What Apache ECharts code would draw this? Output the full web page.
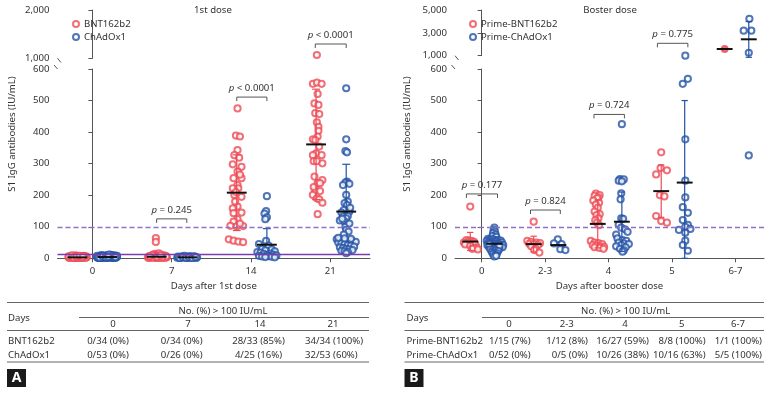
<!DOCTYPE html>
<html>
<head>
<meta charset="utf-8">
<script src="https://cdn.jsdelivr.net/npm/echarts@6/dist/echarts.min.js"></script>
<style>
  html, body { margin: 0; padding: 0; background: #fff; }
  #chart { width: 774px; height: 394px; }
</style>
</head>
<body>
<div id="chart"></div>
<script>
// categories
const A_DAYS = ['0', '7', '14', '21']
const B_DAYS = ['0', '2-3', '4', '5', '6-7']

// points: [category index + jitter, IU/mL]
const A_BNT = [
  // day 0
  [-0.30, 3], [-0.28, 6], [-0.26, 2], [-0.24, 8], [-0.22, 4], [-0.20, 1], [-0.18, 5], [-0.16, 3], [-0.14, 7], [-0.12, 2],
  [-0.10, 4], [-0.08, 6], [-0.07, 3], [-0.29, 1], [-0.25, 5], [-0.21, 9], [-0.17, 2], [-0.13, 5], [-0.09, 1], [-0.27, 4],
  [-0.23, 2], [-0.19, 7], [-0.15, 1], [-0.11, 8], [-0.30, 6], [-0.26, 9], [-0.22, 1], [-0.18, 3], [-0.14, 2], [-0.10, 7],
  [-0.24, 3], [-0.20, 6], [-0.16, 8], [-0.12, 5],
  // day 7
  [0.80, 64], [0.80, 52], [0.70, 3], [0.72, 6], [0.74, 2], [0.76, 9], [0.78, 4], [0.80, 1], [0.82, 12], [0.84, 3],
  [0.86, 7], [0.88, 2], [0.90, 5], [0.92, 8], [0.94, 3], [0.71, 1], [0.75, 5], [0.79, 14], [0.83, 2], [0.87, 6],
  [0.91, 1], [0.73, 4], [0.77, 2], [0.81, 8], [0.85, 1], [0.89, 10], [0.93, 6], [0.76, 11], [0.80, 4], [0.84, 16],
  [0.88, 3], [0.72, 7], [0.82, 5], [0.86, 9],
  // day 14
  [1.83, 475], [1.81, 389], [1.86, 386], [1.83, 343], [1.79, 327], [1.85, 319], [1.77, 298], [1.88, 290], [1.83, 275], [1.78, 254],
  [1.88, 254], [1.83, 232], [1.77, 222], [1.84, 222], [1.79, 201], [1.88, 195], [1.83, 164], [1.77, 158], [1.88, 145], [1.78, 143],
  [1.83, 124], [1.78, 116], [1.74, 103], [1.90, 102], [1.82, 101], [1.72, 60], [1.78, 56], [1.84, 53], [1.90, 51], [1.86, 110],
  [1.80, 180], [1.86, 265], [1.81, 210],
  // day 21
  [2.83, 1068], [2.78, 553], [2.83, 557], [2.89, 553], [2.84, 521], [2.80, 491], [2.85, 486], [2.81, 460], [2.86, 457], [2.83, 431],
  [2.85, 417], [2.85, 404], [2.84, 386], [2.78, 377], [2.81, 375], [2.86, 354], [2.82, 333], [2.78, 327], [2.89, 327], [2.79, 308],
  [2.83, 308], [2.90, 301], [2.80, 259], [2.90, 248], [2.84, 238], [2.87, 238], [2.81, 216], [2.87, 213], [2.78, 201], [2.83, 190],
  [2.86, 187], [2.90, 176], [2.84, 140], [2.79, 226]
]
const A_CHAD = [
  // day 0
  [0.06, 3], [0.08, 5], [0.10, 2], [0.12, 7], [0.14, 4], [0.16, 1], [0.18, 6], [0.20, 3], [0.22, 8], [0.24, 2], [0.26, 5], [0.28, 9], [0.30, 3],
  [0.07, 1], [0.09, 6], [0.11, 10], [0.13, 2], [0.15, 5], [0.17, 8], [0.19, 1], [0.21, 4], [0.23, 11], [0.25, 2], [0.27, 6], [0.29, 1], [0.31, 4],
  [0.06, 8], [0.08, 2], [0.10, 5], [0.12, 1], [0.14, 9], [0.16, 4], [0.18, 2], [0.20, 7], [0.22, 3], [0.24, 10], [0.26, 1], [0.28, 5], [0.30, 7],
  [0.07, 4], [0.11, 3], [0.15, 7], [0.19, 9], [0.23, 5], [0.27, 3], [0.31, 8], [0.09, 2], [0.13, 6], [0.17, 3], [0.21, 12], [0.25, 6], [0.29, 4], [0.20, 5],
  // day 7
  [1.07, 2], [1.09, 4], [1.11, 1], [1.13, 6], [1.15, 3], [1.17, 2], [1.19, 5], [1.21, 1], [1.23, 7], [1.25, 3], [1.27, 2], [1.29, 5], [1.31, 1],
  [1.08, 5], [1.12, 3], [1.16, 8], [1.20, 2], [1.24, 4], [1.28, 6], [1.32, 3], [1.10, 1], [1.14, 4], [1.18, 2], [1.22, 3], [1.26, 1], [1.30, 4],
  // day 14
  [2.20, 197], [2.19, 150], [2.17, 142], [2.20, 130], [2.18, 124], [2.19, 55],
  [2.10, 45], [2.22, 40], [2.14, 30], [2.26, 28], [2.18, 25], [2.30, 22], [2.08, 20], [2.12, 18], [2.24, 15], [2.16, 14],
  [2.28, 12], [2.20, 10], [2.32, 9], [2.10, 8], [2.22, 7], [2.14, 6], [2.26, 5], [2.18, 4], [2.30, 3],
  // day 21
  [3.20, 539], [3.20, 377], [3.19, 340], [3.21, 336], [3.21, 243], [3.19, 240], [3.16, 232], [3.24, 236], [3.20, 201], [3.22, 180],
  [3.18, 175], [3.21, 169], [3.17, 153], [3.24, 148], [3.14, 145], [3.22, 134], [3.16, 132], [3.20, 127], [3.12, 120], [3.18, 116],
  [3.21, 106], [3.19, 100], [3.20, 90], [3.23, 85], [3.17, 75],
  [3.08, 60], [3.12, 58], [3.16, 56], [3.20, 55], [3.24, 55], [3.28, 54], [3.32, 52], [3.10, 50], [3.14, 48], [3.18, 45],
  [3.22, 42], [3.26, 40], [3.30, 37], [3.12, 35], [3.16, 32], [3.20, 30], [3.24, 28], [3.28, 26], [3.14, 24], [3.18, 22],
  [3.22, 20], [3.20, 16], [3.26, 62], [3.10, 65], [3.24, 110], [3.15, 125], [3.25, 160], [3.18, 63]
]
const B_BNT = [
  // day 0
  [-0.18, 164], [-0.24, 58], [-0.20, 56], [-0.16, 55], [-0.12, 52], [-0.28, 50], [-0.22, 48], [-0.14, 47], [-0.10, 45], [-0.26, 44],
  [-0.18, 40], [-0.08, 35], [-0.12, 32], [-0.15, 30], [-0.06, 28],
  // day 2-3
  [0.82, 116], [0.72, 55], [0.78, 52], [0.86, 50], [0.92, 48], [0.75, 46], [0.82, 45], [0.89, 42], [0.78, 38], [0.85, 30],
  [0.83, 26], [0.91, 18],
  // day 4
  [1.80, 205], [1.86, 200], [1.78, 198], [1.84, 193], [1.82, 190], [1.76, 183], [1.85, 176], [1.80, 170], [1.83, 160], [1.78, 148],
  [1.86, 140], [1.81, 137], [1.84, 127], [1.79, 120], [1.82, 113], [1.85, 105],
  [1.72, 55], [1.78, 50], [1.84, 48], [1.90, 45], [1.75, 42], [1.81, 40], [1.87, 38], [1.93, 36], [1.78, 35], [1.86, 33], [1.92, 30],
  // day 5
  [2.83, 336], [2.82, 286], [2.92, 279], [2.75, 266], [2.81, 200], [2.88, 196], [2.75, 134], [2.83, 118], [2.92, 113],
  // day 6-7
  [3.83, 1586]
]
const B_CHAD = [
  // day 0
  [0.20, 97], [0.19, 90], [0.21, 85], [0.18, 80], [0.22, 75], [0.17, 70], [0.23, 68],
  [0.10, 62], [0.14, 60], [0.18, 60], [0.22, 58], [0.26, 58], [0.30, 56], [0.08, 55], [0.12, 54], [0.16, 53], [0.20, 52],
  [0.24, 52], [0.28, 50], [0.32, 50], [0.10, 48], [0.14, 47], [0.18, 46], [0.22, 45], [0.26, 44], [0.30, 43], [0.34, 42],
  [0.09, 41], [0.13, 40], [0.17, 39], [0.21, 38], [0.25, 37], [0.29, 36], [0.33, 35], [0.12, 34], [0.16, 33], [0.20, 32],
  [0.24, 31], [0.28, 30], [0.12, 44], [0.28, 40],
  [0.14, 28], [0.18, 26], [0.22, 25], [0.26, 23], [0.16, 20], [0.20, 18], [0.24, 16], [0.18, 13], [0.22, 10], [0.20, 6], [0.23, 8],
  // day 2-3
  [1.20, 60], [1.14, 47], [1.26, 45], [1.24, 29], [1.32, 26],
  // day 4
  [2.21, 425], [2.18, 251], [2.24, 250], [2.16, 246], [2.21, 244], [2.20, 206], [2.19, 187], [2.20, 127], [2.23, 125], [2.16, 106],
  [2.20, 97], [2.26, 92], [2.30, 84], [2.12, 75], [2.14, 63], [2.22, 58], [2.28, 55], [2.16, 50], [2.24, 47], [2.32, 45],
  [2.20, 42], [2.12, 38], [2.27, 35], [2.18, 30], [2.24, 25], [2.22, 21],
  // day 5
  [3.21, 1000], [3.17, 553], [3.25, 569], [3.21, 377], [3.21, 246], [3.21, 193], [3.17, 162], [3.25, 144], [3.17, 121], [3.25, 106],
  [3.21, 100], [3.11, 90], [3.29, 93], [3.21, 81], [3.21, 56], [3.17, 42], [3.25, 24],
  // day 6-7
  [4.22, 4230], [4.13, 3190], [4.25, 3190], [4.21, 1260], [4.21, 326]
]

// group mean with SD bar: [x, mean, lower, upper] (null = bar not shown)
const A_BNT_STATS = [[-0.19, 3, null, null], [0.81, 5, null, 19], [1.82, 208, 88, 328], [2.82, 361, 186, 536]]
const A_CHAD_STATS = [[0.19, 4, null, null], [1.20, 3, null, null], [2.20, 43, null, 94], [3.20, 148, null, 298]]
const B_BNT_STATS = [[-0.18, 53, 25, 82], [0.82, 45, 20, 70], [1.83, 109, 33, 185], [2.83, 213, 130, 296], [3.83, 1586, null, null]]
const B_CHAD_STATS = [[0.20, 46, null, null], [1.21, 42, null, null], [2.21, 116, 22, 210], [3.20, 240, 0, 500], [4.21, 2435, 860, 3990]]

// p-value brackets: [x from, x to, height IU/mL, text]
const A_P = [[0.81, 1.19, 125, 'p = 0.245'], [1.82, 2.20, 511, 'p < 0.0001'], [2.81, 3.20, 1296, 'p < 0.0001']]
const B_P = [[-0.24, 0.25, 204, 'p = 0.177'], [0.77, 1.24, 153, 'p = 0.824'], [1.77, 2.25, 456, 'p = 0.724'], [2.77, 3.25, 2085, 'p = 0.775']]

// tables
const A_TABLE_ROWS = [
  ['BNT162b2', '0/34 (0%)', '0/34 (0%)', '28/33 (85%)', '34/34 (100%)'],
  ['ChAdOx1', '0/53 (0%)', '0/26 (0%)', '4/25 (16%)', '32/53 (60%)']
]
const B_TABLE_ROWS = [
  ['Prime-BNT162b2', '1/15 (7%)', '1/12 (8%)', '16/27 (59%)', '8/8 (100%)', '1/1 (100%)'],
  ['Prime-ChAdOx1', '0/52 (0%)', '0/5 (0%)', '10/26 (38%)', '10/16 (63%)', '5/5 (100%)']
]

const RED = '#ee4b55'
const BLUE = '#2453a6'
const FONT = 'Noto Sans'
const FS = 9.6
const TXT = '#333'
const AX = '#555'

function scatter (name, data, xi, color, symbol) {
  return {
    name: name,
    type: 'scatter',
    xAxisIndex: xi,
    yAxisIndex: xi,
    data: data,
    symbol: symbol || 'emptyCircle',
    symbolSize: 6.2,
    itemStyle: { color: color, borderColor: color, borderWidth: 1.6 },
    z: 2
  }
}

function errBars (stats, xi, color) {
  return {
    type: 'custom',
    xAxisIndex: xi,
    yAxisIndex: xi,
    clip: false,
    silent: true,
    z: 4,
    data: stats.map(s => [s[0], s[1]]),
    renderItem: function (params, api) {
      const s = stats[params.dataIndex]
      const c = api.coord([s[0], s[1]])
      const w = api.coord([s[0] + 0.125, s[1]])[0] - c[0]
      const cw = api.coord([s[0] + 0.05, s[1]])[0] - c[0]
      const st = { stroke: color, lineWidth: 1.2 }
      const kids = []
      ;[s[3], s[2]].forEach(v => {
        if (v == null) return
        const p = api.coord([s[0], v])
        kids.push({ type: 'line', shape: { x1: c[0], y1: c[1], x2: p[0], y2: p[1] }, style: st })
        kids.push({ type: 'line', shape: { x1: p[0] - cw, y1: p[1], x2: p[0] + cw, y2: p[1] }, style: st })
      })
      kids.push({ type: 'line', shape: { x1: c[0] - w, y1: c[1], x2: c[0] + w, y2: c[1] }, style: { stroke: '#111', lineWidth: 2 } })
      return { type: 'group', children: kids }
    }
  }
}

function brackets (list, xi) {
  return {
    type: 'custom',
    xAxisIndex: xi,
    yAxisIndex: xi,
    clip: false,
    silent: true,
    z: 5,
    data: list.map(b => [b[0], b[2]]),
    renderItem: function (params, api) {
      const b = list[params.dataIndex]
      const p1 = api.coord([b[0], b[2]])
      const p2 = api.coord([b[1], b[2]])
      return {
        type: 'group',
        children: [
          {
            type: 'polyline',
            shape: { points: [[p1[0], p1[1] + 4], [p1[0], p1[1]], [p2[0], p2[1]], [p2[0], p2[1] + 4]] },
            style: { stroke: '#555', lineWidth: 1, fill: null }
          },
          {
            type: 'text',
            x: (p1[0] + p2[0]) / 2,
            y: p1[1] - 9,
            style: {
              text: '{i|p}' + b[3].slice(1),
              align: 'center', verticalAlign: 'middle',
              textAlign: 'center', textVerticalAlign: 'middle',
              fill: TXT,
              font: FS + 'px "' + FONT + '"',
              rich: { i: { fontStyle: 'italic', fontSize: FS, fontFamily: FONT, fill: TXT } }
            }
          }
        ]
      }
    }
  }
}

function groupSeries (name, pts, stats, xiLow, xiUp, color, upSymbol) {
  return [
    scatter(name, pts.filter(p => p[1] <= 600), xiLow, color),
    scatter(name, pts.filter(p => p[1] > 600), xiUp, color, upSymbol),
    errBars(stats.filter(s => s[1] < 1000), xiLow, color),
    errBars(stats.filter(s => s[1] >= 1000), xiUp, color)
  ]
}

const refLines = (withBase) => ({
  silent: true,
  symbol: 'none',
  label: { show: false },
  animation: false,
  data: [{ yAxis: 100, lineStyle: { color: '#8d70c8', type: [5, 3], width: 1.4 } }]
    .concat(withBase ? [{ yAxis: 14, lineStyle: { color: '#7a3cac', type: 'solid', width: 1.3 } }] : [])
})

const series = []
  .concat(groupSeries('BNT162b2', A_BNT, A_BNT_STATS, 0, 1, RED))
  .concat(groupSeries('ChAdOx1', A_CHAD, A_CHAD_STATS, 0, 1, BLUE))
  .concat(groupSeries('Prime-BNT162b2', B_BNT, B_BNT_STATS, 2, 3, RED, 'circle'))
  .concat(groupSeries('Prime-ChAdOx1', B_CHAD, B_CHAD_STATS, 2, 3, BLUE))
series[0].markLine = refLines(true)
series[8].markLine = refLines(false)
series.push(brackets(A_P.filter(b => b[2] <= 600), 0))
series.push(brackets(A_P.filter(b => b[2] > 600), 1))
series.push(brackets(B_P.filter(b => b[2] <= 600), 2))
series.push(brackets(B_P.filter(b => b[2] > 600), 3))

const labelStyle = { color: TXT, fontSize: FS, fontFamily: FONT }
const lineStyle = { lineStyle: { color: AX, width: 1 } }
const fmt = v => Number(v).toLocaleString('en-US')

function xAxisLow (gi, min, max, days, name) {
  const vals = days.map((d, i) => i)
  return {
    type: 'value', gridIndex: gi, min: min, max: max,
    axisLine: lineStyle,
    axisTick: { show: true, length: 4, lineStyle: { color: AX }, customValues: vals },
    axisLabel: Object.assign({ customValues: vals, formatter: v => days[Math.round(v)] }, labelStyle),
    splitLine: { show: false },
    name: name, nameLocation: 'middle', nameGap: 23,
    nameTextStyle: labelStyle
  }
}
function xAxisUp (gi, min, max) {
  return { type: 'value', gridIndex: gi, min: min, max: max, show: false, splitLine: { show: false } }
}
function yAxis (gi, min, max, vals) {
  return {
    type: 'value', gridIndex: gi, min: min, max: max,
    axisLine: { show: true, lineStyle: { color: AX, width: 1 } },
    axisTick: { show: true, length: 4, lineStyle: { color: AX }, customValues: vals },
    axisLabel: Object.assign({ customValues: vals, formatter: fmt }, labelStyle),
    splitLine: { show: false }
  }
}

// text / rule helpers for the tables and labels
const graphics = []
function txt (text, x, y, align, extra) {
  graphics.push({
    type: 'text', x: x, y: y, silent: true,
    style: Object.assign({
      text: text, fill: TXT, font: FS + 'px "' + FONT + '"',
      align: align || 'left', verticalAlign: 'middle',
      textAlign: align || 'left', textVerticalAlign: 'middle'
    }, extra || {})
  })
}
function rule (x1, x2, y, col) {
  graphics.push({ type: 'line', silent: true, shape: { x1: x1, y1: y, x2: x2, y2: y }, style: { stroke: col || '#666', lineWidth: 1 } })
}
function slash (x1, y1, x2, y2) {
  graphics.push({ type: 'line', silent: true, shape: { x1: x1, y1: y1, x2: x2, y2: y2 }, style: { stroke: AX, lineWidth: 1 } })
}

// panel titles and axis names
txt('1st dose', 213, 10, 'center')
txt('Boster dose', 610, 10, 'center')
graphics.push({ type: 'text', x: 12, y: 134, rotation: Math.PI / 2, silent: true,
  style: { text: 'S1 IgG antibodies (IU/mL)', fill: TXT, font: FS + 'px "' + FONT + '"', align: 'center', verticalAlign: 'middle', textAlign: 'center', textVerticalAlign: 'middle' } })
graphics.push({ type: 'text', x: 407, y: 134, rotation: Math.PI / 2, silent: true,
  style: { text: 'S1 IgG antibodies (IU/mL)', fill: TXT, font: FS + 'px "' + FONT + '"', align: 'center', verticalAlign: 'middle', textAlign: 'center', textVerticalAlign: 'middle' } })

// axis breaks
slash(57.5, 58.3, 61, 62.5)
slash(54, 65, 57.5, 69)
slash(455, 55.7, 458.5, 60)
slash(451.5, 65, 455, 69)

// table A
rule(7, 369, 302.5)
txt('Days', 8, 318)
txt('No. (%) > 100 IU/mL', 223, 311, 'center')
rule(79, 369, 317.5)
const A_HEAD_X = [113, 188, 260, 333]
A_DAYS.forEach((d, i) => txt(d, A_HEAD_X[i], 324.5, 'center'))
rule(7, 369, 330.5)
const A_CELL_X = [108, 181.7, 258.5, 305]
const A_CELL_AL = ['center', 'center', 'center', 'left']
A_TABLE_ROWS.forEach((r, ri) => {
  const y = 341 + ri * 14
  txt(r[0], 8, y)
  r.slice(1).forEach((c, ci) => txt(c, A_CELL_X[ci], y, A_CELL_AL[ci]))
})
rule(7, 369, 362)
graphics.push({ type: 'rect', silent: true, shape: { x: 7, y: 369, width: 19, height: 18 }, style: { fill: '#1a1a1a' } })
txt('A', 16.5, 378.5, 'center', { fill: '#fff', font: 'bold 14px "' + FONT + '"' })

// table B
rule(404.5, 764, 302.5)
txt('Days', 406.5, 318)
txt('No. (%) > 100 IU/mL', 625.7, 311, 'center')
rule(482, 764, 317.5)
const B_HEAD_X = [509, 566.7, 625, 681.7, 738]
B_DAYS.forEach((d, i) => txt(d, B_HEAD_X[i], 324.5, 'center'))
rule(404.5, 764, 330.5)
const B_CELL_X = [530.7, 588, 649, 705.7, 762]
B_TABLE_ROWS.forEach((r, ri) => {
  const y = 341 + ri * 14
  txt(r[0], 406.5, y)
  r.slice(1).forEach((c, ci) => txt(c, B_CELL_X[ci], y, 'right'))
})
rule(404.5, 764, 362)
graphics.push({ type: 'rect', silent: true, shape: { x: 404.5, y: 369, width: 19, height: 18 }, style: { fill: '#1a1a1a' } })
txt('B', 414, 378.5, 'center', { fill: '#fff', font: 'bold 14px "' + FONT + '"' })

const option = {
  animation: false,
  backgroundColor: '#fff',
  textStyle: { fontFamily: FONT },
  grid: [
    { left: 57.5, width: 312.5, top: 69, height: 189.3 },
    { left: 57.5, width: 312.5, top: 10, height: 48.3 },
    { left: 455, width: 309, top: 69, height: 189.3 },
    { left: 455, width: 309, top: 10, height: 45.7 }
  ],
  xAxis: [
    xAxisLow(0, -0.44, 3.5, A_DAYS, 'Days after 1st dose'),
    xAxisUp(1, -0.44, 3.5),
    xAxisLow(2, -0.42, 4.45, B_DAYS, 'Days after booster dose'),
    xAxisUp(3, -0.42, 4.45)
  ],
  yAxis: [
    yAxis(0, 0, 600, [0, 100, 200, 300, 400, 500, 600]),
    yAxis(1, 1000, 2000, [1000, 2000]),
    yAxis(2, 0, 600, [0, 100, 200, 300, 400, 500, 600]),
    yAxis(3, 1000, 5000, [1000, 3000, 5000])
  ],
  legend: [
    {
      data: ['BNT162b2', 'ChAdOx1'], left: 72, top: 19, orient: 'vertical',
      itemWidth: 6, itemHeight: 6, itemGap: 3, padding: 0, selectedMode: false,
      textStyle: labelStyle, itemStyle: { borderWidth: 1.5 }
    },
    {
      data: ['Prime-BNT162b2', 'Prime-ChAdOx1'], left: 469, top: 19, orient: 'vertical',
      itemWidth: 6, itemHeight: 6, itemGap: 3, padding: 0, selectedMode: false,
      textStyle: labelStyle, itemStyle: { borderWidth: 1.5 }
    }
  ],
  graphic: { elements: graphics },
  series: series
}

const chart = echarts.init(document.getElementById('chart'))
chart.setOption(option)
</script>
</body>
</html>
